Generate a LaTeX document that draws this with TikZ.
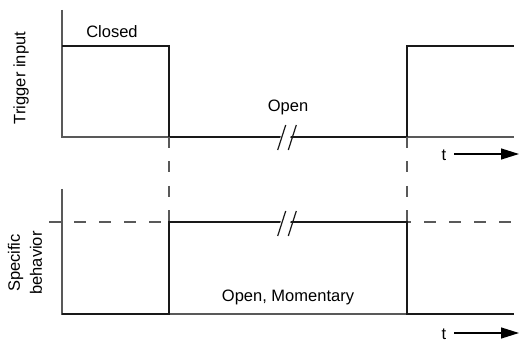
\documentclass[tikz,border=0pt]{standalone}
\usepackage{fontspec}
\setmainfont{Liberation Sans}
\usetikzlibrary{arrows.meta}
\begin{document}
\begin{tikzpicture}[x=1pt,y=-1pt,
  axisline/.style={draw=black!65, line width=1.3pt},
  sigline/.style={draw=black!90, line width=2.8pt, line join=miter, line cap=butt},
  guide/.style={draw=black!65, line width=1.3pt, dash pattern=on 11pt off 13.5pt},
  hguide/.style={draw=black!65, line width=1.3pt, dash pattern=on 12pt off 13pt},
  brk/.style={draw=black!90, line width=1.2pt},
  lbl/.style={font=\fontsize{16.5}{19}\selectfont, inner sep=0pt},
  tarrow/.style={draw=black, line width=1.3pt, -{Triangle[length=18pt,width=11pt]}}]
\useasboundingbox (0,0) rectangle (519,344);
% ---------- top plot ----------
\coordinate (tA) at (62,10);
\coordinate (tO) at (62,137);
\coordinate (tE) at (514,137);
\coordinate (t1) at (62,46);
\coordinate (t2) at (169,46);
\coordinate (t3) at (169,137);
\coordinate (t4) at (407,137);
\coordinate (t5) at (407,46);
\coordinate (t6) at (514,46);
\draw[axisline] (tA) -- (tO) -- (tE);
\draw[sigline] (t1) -- (t2) -- (t3) -- (t4) -- (t5) -- (t6);
% break marks top
\fill[white] (280,139.5) -- (290,139.5) -- (291,134.5) -- (281,134.5) -- cycle;
\draw[brk] (277.7,150) -- (285.7,125);
\draw[brk] (288.3,150) -- (296.3,125);
% ---------- bottom plot ----------
\coordinate (bA) at (62,189);
\coordinate (bO) at (62,314);
\coordinate (bE) at (514,314);
\coordinate (hS) at (49,222);
\coordinate (hE) at (514,222);
\coordinate (b1) at (62,314);
\coordinate (b2) at (169,314);
\coordinate (b3) at (169,222);
\coordinate (b4) at (407,222);
\coordinate (b5) at (407,314);
\coordinate (b6) at (514,314);
\draw[hguide] (hS) -- (hE);
\draw[axisline] (bA) -- (bO) -- (bE);
\draw[guide] (t3) -- (b3);
\draw[guide] (t4) -- (b4);
\draw[sigline] (b1) -- (b2) -- (b3) -- (b4) -- (b5) -- (b6);
\fill[white] (280,224.5) -- (290,224.5) -- (291,219.5) -- (281,219.5) -- cycle;
\draw[brk] (277.7,236) -- (285.7,211);
\draw[brk] (288.3,236) -- (296.3,211);
% ---------- labels ----------
\node[lbl] (closed) at (112,32) {Closed};
\node[lbl] (open) at (288,107) {Open};
\node[lbl] (openm) at (288,297) {Open, Momentary};
\node[lbl] (tt) at (444,155) {t};
\node[lbl] (tb) at (444,334) {t};
\coordinate (ta1) at (454,154);
\coordinate (ta2) at (519,154);
\coordinate (tb1) at (454,333);
\coordinate (tb2) at (519,333);
\draw[tarrow] (ta1) -- (ta2);
\draw[tarrow] (tb1) -- (tb2);
\node[lbl, rotate=90] (trig) at (21,78) {Trigger input};
\node[lbl, rotate=90, align=center, font=\fontsize{16.5}{22}\selectfont] (spec) at (25,263) {Specific\\behavior};
\end{tikzpicture}
\end{document}
